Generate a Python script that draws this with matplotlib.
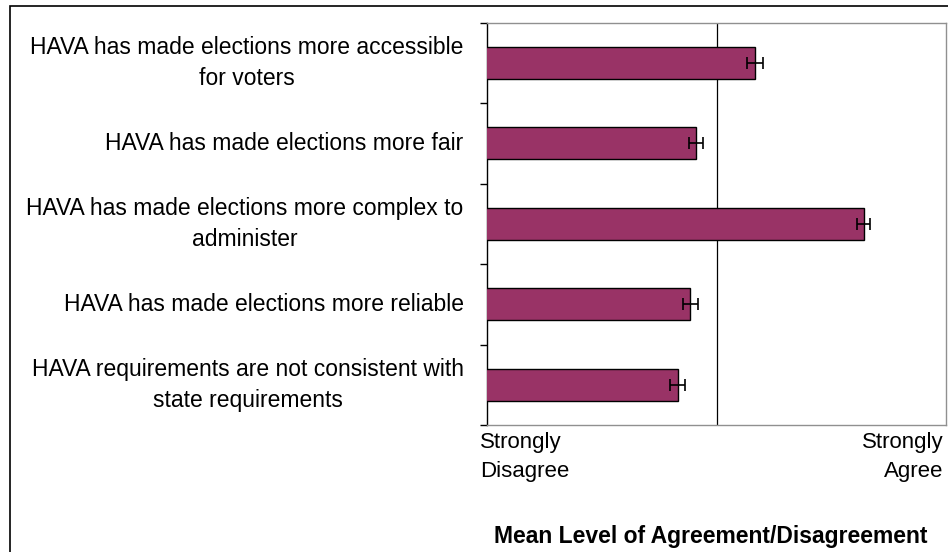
import matplotlib.pyplot as plt
import matplotlib.transforms as mtransforms
from matplotlib.patches import Rectangle

# Survey statements (top to bottom) and mean agreement on a 1-5 scale
statements = [
    "HAVA has made elections more accessible\nfor voters",
    "HAVA has made elections more fair",
    "HAVA has made elections more complex to\nadminister",
    "HAVA has made elections more reliable",
    "HAVA requirements are not consistent with\nstate requirements",
]
means = [3.33, 2.82, 4.28, 2.77, 2.66]
errors = [0.07, 0.065, 0.055, 0.065, 0.065]
scale_labels = ["Strongly\nDisagree", "Strongly\nAgree"]
scale_ends = [1, 5]

plt.rcParams['font.family'] = ['Liberation Sans', 'DejaVu Sans']

fig = plt.figure(figsize=(9.48, 5.52), dpi=100)
ax = fig.add_axes([0.514, 0.2301, 0.484, 0.7288])

positions = list(range(len(statements)))
ax.barh(positions, means, height=0.4, left=0, color='#993366',
        edgecolor='black', linewidth=1, zorder=3)
ax.errorbar(means, positions, xerr=errors, fmt='none', ecolor='black',
            elinewidth=1.2, capsize=4, capthick=1.2, zorder=4)
ax.axvline(3, color='black', linewidth=0.9, zorder=2)

ax.set_xlim(scale_ends[0], scale_ends[1])
ax.set_ylim(len(statements) - 0.5, -0.5)

# category labels, boundary ticks as minor ticks
ax.set_yticks(positions)
ax.set_yticklabels(statements, fontsize=16.5, multialignment='center',
                   linespacing=1.45, va='center')
ax.tick_params(axis='y', which='major', length=0, pad=17)
ax.set_yticks([p - 0.5 for p in positions] + [len(statements) - 0.5], minor=True)
ax.tick_params(axis='y', which='minor', length=5, width=1, color='black')

ax.set_xticks(scale_ends)
ax.set_xticklabels(scale_labels, fontsize=16, linespacing=1.5)
ax.tick_params(axis='x', length=0, pad=5)
xl = ax.get_xticklabels()
xl[0].set_horizontalalignment('left')
xl[1].set_horizontalalignment('right')
for lab in xl:
    lab.set_multialignment(lab.get_horizontalalignment())
xl[0].set_transform(xl[0].get_transform() + mtransforms.ScaledTranslation(-7 / 100, 0, fig.dpi_scale_trans))
xl[1].set_transform(xl[1].get_transform() + mtransforms.ScaledTranslation(-3 / 100, 0, fig.dpi_scale_trans))

for side in ['top', 'right', 'bottom']:
    ax.spines[side].set_color('#909090')
    ax.spines[side].set_linewidth(1)
ax.spines['left'].set_color('black')
ax.spines['left'].set_linewidth(1)

fig.text(711 / 948, 1 - 536 / 552, "Mean Level of Agreement/Disagreement",
         ha='center', va='center', fontsize=16.5, fontweight='bold')

# outer chart frame (runs off right and bottom edges)
frame = Rectangle((10 / 948, -0.1), 1.2, 1.1 - 6 / 552, transform=fig.transFigure,
                  fill=False, edgecolor='black', linewidth=1.2, clip_on=False)
fig.patches.append(frame)

fig.savefig('out.png', dpi=100)
